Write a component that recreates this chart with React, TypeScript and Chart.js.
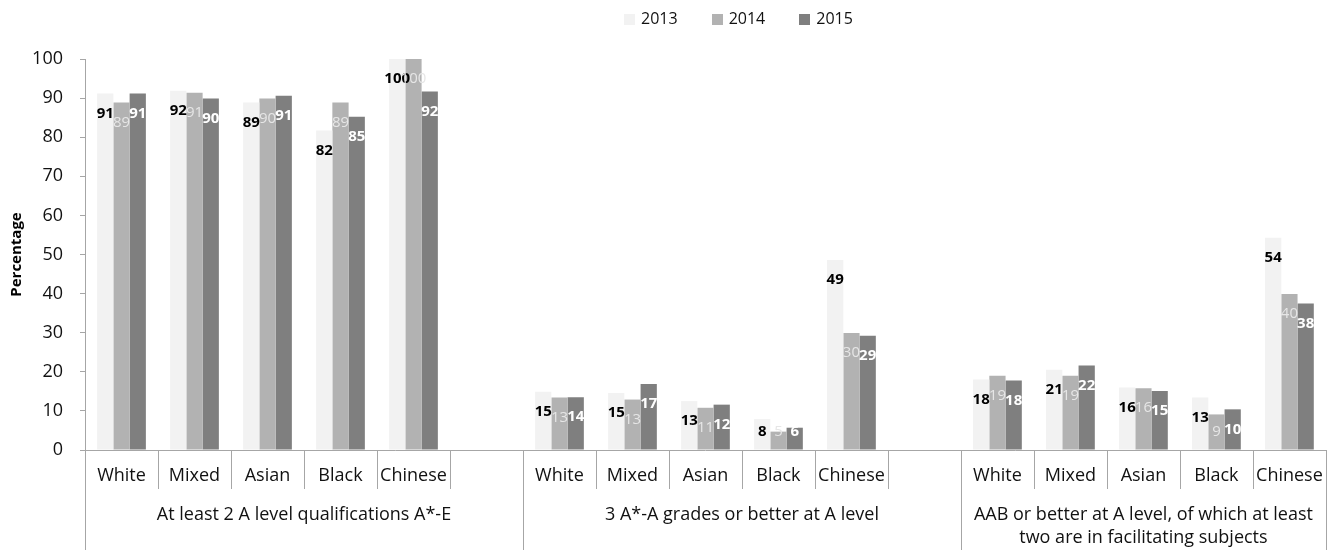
import React, { useEffect, useRef } from "react";
import { Chart, registerables } from "chart.js";

Chart.register(...registerables);

const FONT = "'Open Sans', 'Noto Sans', sans-serif";

// Categories (empty strings are the gaps between groups)
const categories = [
  "White", "Mixed", "Asian", "Black", "Chinese", "",
  "White", "Mixed", "Asian", "Black", "Chinese", "",
  "White", "Mixed", "Asian", "Black", "Chinese",
];

// Group labels (multi-line), and the category index where each group starts / ends
const groupLabels = [
  ["At least 2 A level qualifications A*-E"],
  ["3 A*-A grades or better at A level"],
  ["AAB or better at A level, of which at least", "two are in facilitating subjects"],
];
const groupStart = [0, 6, 12];
const groupEnd = [6, 12, 17];

const seriesNames = ["2013", "2014", "2015"];

const v2013 = [91.2, 91.9, 88.9, 81.7, 100, null, 14.9, 14.6, 12.5, 7.9, 48.6, null, 18.0, 20.5, 16.0, 13.4, 54.3];
const v2014 = [88.9, 91.4, 89.9, 88.9, 100, null, 13.4, 12.9, 10.8, 4.7, 29.9, null, 19.0, 19.0, 15.8, 9.1, 39.9];
const v2015 = [91.2, 89.9, 90.6, 85.2, 91.7, null, 13.5, 16.9, 11.6, 5.7, 29.2, null, 17.8, 21.6, 15.1, 10.4, 37.5];

const yTicks = { min: 0, max: 100, step: 10 };

const barColors = ["#f2f2f2", "#b2b2b2", "#7f7f7f"];
const labelColors = ["#000000", "#e6e6e6", "#ffffff"];
const labelWeights = ["bold", "normal", "bold"];

const AXIS_COLOR = "#a6a6a6";
const TEXT_COLOR = "#111111";

const dataLabelPlugin = {
  id: "dataLabels",
  afterDatasetsDraw(chart: any) {
    const ctx = chart.ctx;
    ctx.save();
    ctx.textAlign = "center";
    ctx.textBaseline = "middle";
    chart.data.datasets.forEach((ds: any, di: number) => {
      const meta = chart.getDatasetMeta(di);
      ctx.fillStyle = labelColors[di];
      ctx.font = `${labelWeights[di]} 15px ${FONT}`;
      meta.data.forEach((el: any, i: number) => {
        const v = ds.data[i];
        if (v === null || v === undefined) return;
        const p = el.getProps(["x", "y", "base"], true);
        const ly = Math.min(p.y + 20, p.base - 18);
        ctx.fillText(String(Math.round(v)), p.x, ly);
      });
    });
    ctx.restore();
  },
};

const axisDecorPlugin = {
  id: "axisDecor",
  afterDraw(chart: any) {
    const ctx = chart.ctx;
    const xs = chart.scales.x;
    const n = categories.length;
    const step = xs.getPixelForValue(1) - xs.getPixelForValue(0);
    const bottom = chart.chartArea.bottom;
    const boundary = (b: number) =>
      b < n ? xs.getPixelForValue(b) - step / 2 : xs.getPixelForValue(n - 1) + step / 2;
    ctx.save();
    ctx.strokeStyle = AXIS_COLOR;
    ctx.lineWidth = 1;
    for (let b = 0; b <= n; b++) {
      const full = groupStart.includes(b) || b === n;
      const x = Math.round(boundary(b)) + 0.5;
      ctx.beginPath();
      ctx.moveTo(x, bottom);
      ctx.lineTo(x, full ? chart.height : bottom + 39);
      ctx.stroke();
    }
    ctx.fillStyle = TEXT_COLOR;
    ctx.font = `18px ${FONT}`;
    ctx.textAlign = "center";
    ctx.textBaseline = "middle";
    groupLabels.forEach((lines, g) => {
      const cx = (boundary(groupStart[g]) + boundary(groupEnd[g])) / 2;
      lines.forEach((line, li) => {
        ctx.fillText(line, cx, bottom + 65 + li * 23);
      });
    });
    ctx.restore();
  },
};

const legendPlugin = {
  id: "customLegend",
  afterDraw(chart: any) {
    const ctx = chart.ctx;
    ctx.save();
    ctx.font = `16px ${FONT}`;
    ctx.textBaseline = "middle";
    ctx.textAlign = "left";
    const box = 11;
    const gapBoxText = 6;
    const gapItems = 34;
    const items = chart.data.datasets.map((ds: any) => ({
      text: ds.label,
      color: ds.backgroundColor,
      w: ctx.measureText(ds.label).width,
    }));
    const total =
      items.reduce((s: number, it: any) => s + box + gapBoxText + it.w, 0) + gapItems * (items.length - 1);
    const center = (chart.chartArea.left + chart.chartArea.right) / 2 + 33;
    let x = center - total / 2;
    const cy = 19;
    items.forEach((it: any) => {
      ctx.fillStyle = it.color;
      ctx.fillRect(Math.round(x), Math.round(cy - box / 2), box, box);
      ctx.fillStyle = TEXT_COLOR;
      ctx.fillText(it.text, x + box + gapBoxText, cy);
      x += box + gapBoxText + it.w + gapItems;
    });
    ctx.restore();
  },
};

export default function App() {
  const canvasRef = useRef<HTMLCanvasElement | null>(null);

  useEffect(() => {
    if (!canvasRef.current) return;
    const series = [v2013, v2014, v2015];
    const chart = new Chart(canvasRef.current, {
      type: "bar",
      data: {
        labels: categories,
        datasets: series.map((d, i) => ({
          label: seriesNames[i],
          data: d,
          backgroundColor: barColors[i],
          borderWidth: 0,
          categoryPercentage: 0.668,
          barPercentage: 1.0,
        })),
      },
      options: {
        responsive: false,
        animation: false,
        devicePixelRatio: 1,
        layout: { padding: { top: 59, right: 7, left: 0, bottom: 0 } },
        plugins: {
          legend: { display: false },
          tooltip: { enabled: false },
          title: { display: false },
        },
        scales: {
          x: {
            type: "category",
            offset: true,
            grid: { display: false, drawTicks: false },
            border: { display: true, color: AXIS_COLOR, width: 1 },
            ticks: {
              autoSkip: false,
              maxRotation: 0,
              minRotation: 0,
              padding: 15,
              color: TEXT_COLOR,
              font: { family: FONT, size: 18 },
            },
            afterFit: (s: any) => {
              s.height = 100;
            },
          },
          y: {
            min: yTicks.min,
            max: yTicks.max,
            grid: {
              display: true,
              drawOnChartArea: false,
              drawTicks: true,
              tickLength: 5,
              color: AXIS_COLOR,
            },
            border: { display: true, color: AXIS_COLOR, width: 1 },
            ticks: {
              stepSize: yTicks.step,
              padding: 17,
              color: TEXT_COLOR,
              font: { family: FONT, size: 18 },
            },
            title: {
              display: true,
              text: "Percentage",
              color: "#000000",
              font: { family: FONT, size: 15, weight: "bold" },
              padding: { top: 8, bottom: 0 },
            },
            afterFit: (s: any) => {
              s.width = 85;
            },
          },
        },
      },
      plugins: [dataLabelPlugin, axisDecorPlugin, legendPlugin],
    });
    return () => chart.destroy();
  }, []);

  return (
    <div style={{ position: "absolute", left: 0, top: 0, width: 1338, height: 550, background: "#ffffff" }}>
      <canvas ref={canvasRef} width={1338} height={550} />
    </div>
  );
}
